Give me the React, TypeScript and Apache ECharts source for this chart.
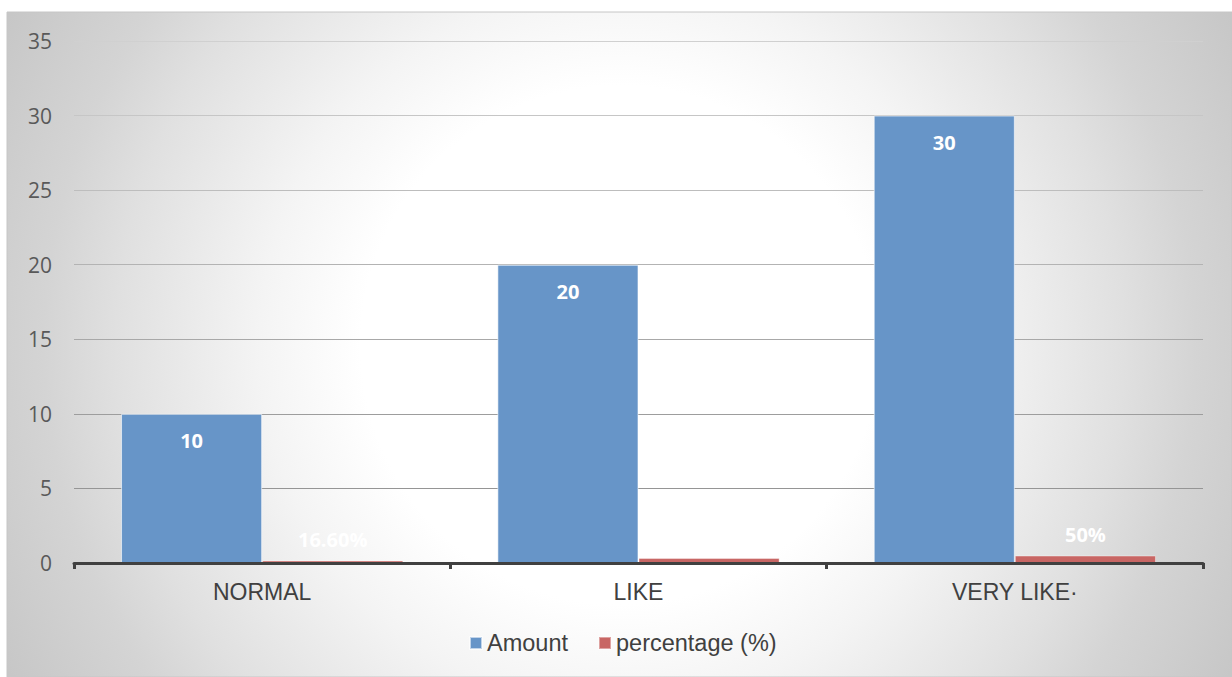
import React, { useEffect, useRef } from "react";
import * as echarts from "echarts";

const categories = ["NORMAL", "LIKE", "VERY LIKE·"];
const amountValues = [10, 20, 30];
const percentageValues = [0.166, 0.333, 0.5];
const percentageLabels = ["16.60%", "33.30%", "50%"];
const yTicks = { min: 0, max: 35, interval: 5 };

export default function App() {
  const ref = useRef<HTMLDivElement>(null);
  useEffect(() => {
    if (!ref.current) return;
    const chart = echarts.init(ref.current, undefined, { renderer: "svg" });
    const bg = new echarts.graphic.RadialGradient(
      620,
      345,
      720,
      [
        { offset: 0, color: "#ffffff" },
        { offset: 0.36, color: "#ffffff" },
        { offset: 0.5, color: "#f4f4f4" },
        { offset: 0.7, color: "#e0e0e0" },
        { offset: 0.8, color: "#d4d4d4" },
        { offset: 1, color: "#c4c4c4" },
      ],
      true
    );
    chart.setOption({
      animation: false,
      graphic: [
        {
          type: "rect",
          z: -10,
          silent: true,
          shape: { x: 7, y: 12, width: 1225, height: 665 },
          style: { fill: bg as any, stroke: "#c6c6c6", lineWidth: 1 },
        },
      ],
      grid: { left: 74, right: 29, top: 41, bottom: 114, containLabel: false },
      legend: {
        left: 469,
        top: 631,
        padding: 0,
        itemWidth: 12,
        itemHeight: 12,
        itemGap: 30,
        icon: "rect",
        textStyle: { fontSize: 23.5, color: "#404040", fontFamily: "Liberation Sans" },
        data: ["Amount", "percentage (%)"],
      },
      xAxis: {
        type: "category",
        data: categories,
        z: 5,
        axisLine: { lineStyle: { color: "#404040", width: 3 } },
        axisTick: { show: true, length: 6, lineStyle: { color: "#404040", width: 3 } },
        axisLabel: { fontSize: 23, color: "#404040", margin: 17, fontFamily: "Liberation Sans" },
      },
      yAxis: {
        type: "value",
        min: yTicks.min,
        max: yTicks.max,
        interval: yTicks.interval,
        axisLine: { show: false },
        axisTick: { show: false },
        axisLabel: { fontSize: 21, color: "#595959", margin: 22, fontFamily: "Open Sans" },
        splitLine: {
          lineStyle: {
            width: 1,
            color: ["#808080", "#959595", "#9d9d9d", "#a8a8a8", "#b3b3b3", "#bdbdbd", "#c6c6c6", "#d0d0d0"],
          },
        },
      },
      series: [
        {
          name: "Amount",
          type: "bar",
          data: amountValues,
          barGap: "0%",
          barCategoryGap: "25%",
          itemStyle: { color: "#6795c8", borderColor: "rgba(255,255,255,0.6)", borderWidth: 1 },
          label: {
            show: true,
            position: "insideTop",
            distance: 17,
            color: "#ffffff",
            fontWeight: "bold",
            fontSize: 20,
            fontFamily: "Open Sans",
          },
        },
        {
          name: "percentage (%)",
          type: "bar",
          data: percentageValues,
          itemStyle: { color: "#c86664", borderColor: "rgba(255,255,255,0.4)", borderWidth: 1 },
          label: {
            show: true,
            position: "top",
            distance: 11,
            color: "#ffffff",
            fontWeight: "bold",
            fontSize: 20,
            fontFamily: "Open Sans",
            formatter: (p: any) => percentageLabels[p.dataIndex],
          },
        },
      ],
    });
    return () => chart.dispose();
  }, []);
  return (
    <div
      ref={ref}
      style={{ position: "fixed", left: 0, top: 0, width: 1232, height: 677, background: "#ffffff" }}
    />
  );
}
